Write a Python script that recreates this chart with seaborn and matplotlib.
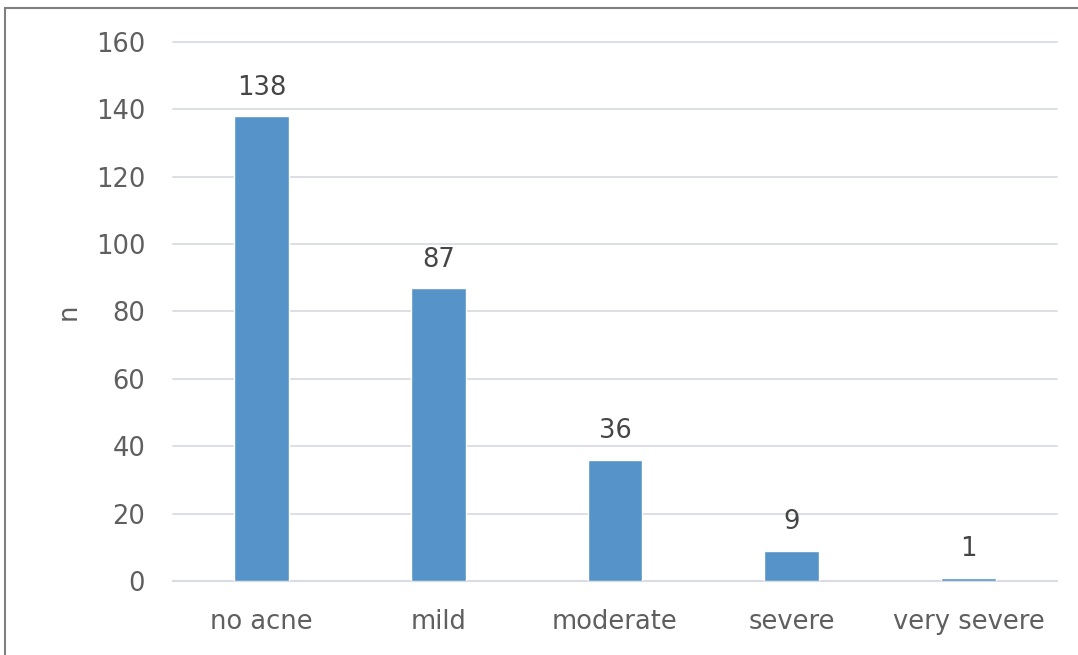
import matplotlib
matplotlib.use("Agg")
import matplotlib.pyplot as plt
import seaborn as sns
import pandas as pd
from matplotlib.patches import Rectangle

categories = ["no acne", "mild", "moderate", "severe", "very severe"]
counts = [138, 87, 36, 9, 1]
y_ticks = [0, 20, 40, 60, 80, 100, 120, 140, 160]

df = pd.DataFrame({"severity": categories, "n": counts})

sns.set_theme(style="white")
plt.rcParams["font.family"] = ["DejaVu Sans"]

text_color = "#5F5F5F"
grid_color = "#D9DCE3"
bar_color = "#5593C8"

fig = plt.figure(figsize=(10.78, 6.55), dpi=100)
ax = fig.add_axes([0.1605, 0.113, 0.82, 0.823])

sns.barplot(data=df, x="severity", y="n", color=bar_color, width=0.31,
            saturation=1, ax=ax, zorder=3)

ax.set_ylim(0, 160)
ax.set_yticks(y_ticks)
ax.set_xlim(-0.5, len(categories) - 0.5)
ax.yaxis.grid(True, color=grid_color, linewidth=1.3, zorder=0)
ax.xaxis.grid(False)
for line in ax.get_ygridlines():
    line.set_clip_on(False)
for s in ["top", "right", "left"]:
    ax.spines[s].set_visible(False)
ax.spines["bottom"].set_color(grid_color)
ax.spines["bottom"].set_linewidth(1.5)

ax.tick_params(axis="y", length=0, pad=20, labelsize=18.5, labelcolor=text_color)
ax.tick_params(axis="x", length=0, pad=20, labelsize=18.5, labelcolor=text_color)
ax.set_xlabel("")
ax.set_ylabel("n", fontsize=18.5, color=text_color, labelpad=10)

for container in ax.containers:
    ax.bar_label(container, labels=[str(v) for v in counts], padding=11,
                 fontsize=18.5, color="#454545")

# outer frame around the figure
fig.patches.append(Rectangle((0.005, -0.05), 1.2, 1.038, transform=fig.transFigure,
                             fill=False, edgecolor="#7F7F7F", linewidth=1.5))

fig.savefig("out.png", dpi=100)
